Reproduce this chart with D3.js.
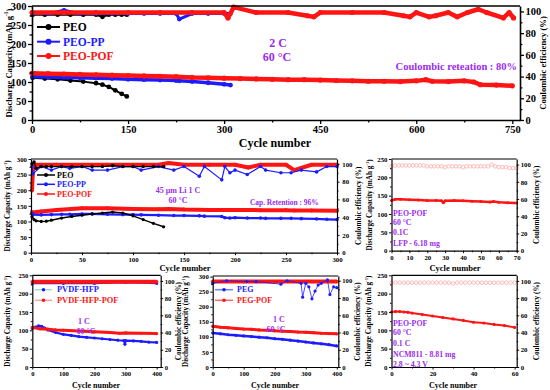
<!DOCTYPE html>
<html>
<head>
<meta charset="utf-8">
<script src="https://cdn.jsdelivr.net/npm/d3@7"></script>
<style>
body { margin: 0; background: #fff; }
text { font-family: "Liberation Serif", "Times New Roman", serif; font-weight: bold; }
</style>
</head>
<body>
<script>
// ---- panel A : 2 C, 60 °C, long cycling ----
var aPeoCyc = [1, 20, 40, 60, 80, 100, 110, 120, 130, 140, 148];
var aPeoCap = [111, 109, 107, 104, 101, 97, 93, 87, 78, 69, 62];
var aPeoCe  = [97, 97, 97, 97, 97, 97, 95, 97, 97, 97, 97];

var aPpCyc = [1, 25, 50, 75, 100, 125, 150, 175, 200, 225, 230, 250, 275, 300, 310];
var aPpCap = [114, 113, 112, 111, 110, 109, 107, 106, 105, 104, 103, 101, 98, 94, 92];
var aPpCe  = [98, 98, 101, 98, 98, 98, 98, 98, 98, 98, 93, 98, 98, 98, 98];

var aPofCyc = [0, 25, 50, 75, 100, 125, 150, 175, 200, 225, 250, 275, 300, 325, 350, 375,
               400, 425, 450, 475, 500, 525, 550, 575, 600, 615, 625, 650, 675, 690, 700, 725, 750];
var aPofCap = [123, 122, 121, 120, 119, 118, 117, 116, 115, 114, 112, 111, 110, 109, 108, 107,
               106, 106, 105, 104, 103, 102, 102, 101, 103, 106, 102, 101, 103, 100, 93, 92, 90];
var aPofCeCyc = [0, 50, 100, 150, 200, 250, 300, 306, 315, 350, 400, 430, 440, 450, 500, 550, 580,
                 590, 600, 620, 630, 650, 664, 680, 697, 710, 736, 745, 752];
var aPofCe    = [99, 99, 99, 99, 99, 99, 99, 94, 104, 99, 99, 96, 95, 99, 99, 99, 96,
                 95, 99, 95, 96, 99, 95, 99, 102, 99, 94, 99, 94];

// ---- panel B : 45 um Li, 1 C ----
var bPeoCyc = [1, 3, 5, 10, 15, 20, 30, 40, 50, 60, 70, 80, 90, 100, 110, 120, 130];
var bPeoCap = [115, 106, 102, 100, 101, 104, 111, 116, 120, 124, 127, 130, 127, 118, 106, 94, 83];
var bPeoCe  = [100, 102, 95, 97, 97, 97, 97, 97, 97, 97, 97, 98, 97, 97, 97, 97, 97];

var bPpCyc = [1, 2, 10, 20, 30, 38, 50, 60, 75, 90, 100, 108, 125, 140, 150, 165, 170, 187, 190,
              195, 200, 212, 225, 230, 245, 255, 265, 280, 290, 300];
var bPpCap = [125, 122, 121, 122, 123, 123, 124, 124, 123, 122, 122, 121, 120, 119, 119, 118, 117,
              116, 112, 111, 112, 111, 111, 110, 110, 110, 109, 108, 107, 106];
var bPpCe  = [97, 89, 97, 93, 97, 95, 97, 93, 93, 97, 97, 93, 97, 93, 97, 86, 97, 82, 97,
              90, 93, 88, 97, 93, 90, 90, 93, 91, 97, 97];

var bPofCyc = [1, 2, 5, 10, 25, 50, 75, 100, 125, 135, 150, 175, 200, 213, 225, 250, 258, 275, 300];
var bPofCap = [130, 128, 130, 132, 137, 142, 142, 140, 139, 140, 138, 137, 137, 137, 136, 136, 135, 135, 134];
var bPofCe  = [70, 95, 99, 99, 99, 99, 99, 99, 99, 101, 99, 99, 99, 96, 99, 99, 93, 99, 99];

// ---- panel C : LFP, 0.1C ----
var cCyc = [0, 2, 5, 10, 15, 20, 25, 28, 29, 30, 35, 40, 45, 50, 55, 57, 60, 65, 70];
var cCap = [137, 140, 140, 139, 138, 137, 137, 136, 131, 136, 137, 136, 135, 134, 133, 134, 132, 131, 130];
var cCeCyc = [0, 2, 4, 6, 8, 10, 12, 14, 16, 18, 20, 22, 24, 26, 28, 30, 32, 34,
              36, 38, 40, 42, 44, 46, 48, 50, 52, 54, 56, 58, 60, 62, 64, 66, 68, 70];
var cCe    = [98, 99, 99, 99, 99, 99, 99, 99, 99, 99, 98, 98, 98, 98, 98, 97, 98, 98,
              98, 98, 97, 98, 98, 98, 98, 98, 98, 98, 100, 98, 97, 97, 97, 96, 96, 96];

// ---- panel D : PVDF-HFP ----
var dHfpCyc = [0, 10, 20, 30, 40, 50, 75, 100, 125, 150, 175, 200, 225, 250, 275, 295, 298, 300, 325, 350, 375, 400];
var dHfpCap = [105, 109, 112, 111, 106, 101, 94, 89, 86, 83, 81, 79, 77, 75, 73, 72, 62, 72, 71, 70, 68, 67];
var dPofCyc = [0, 25, 50, 75, 100, 150, 200, 250, 280, 300, 350, 400];
var dPofCap = [108, 104, 103, 101, 100, 98, 96, 94, 92, 93, 92, 91];
var dCeCyc  = [0, 100, 200, 300, 400];
var dHfpCe  = [97, 97, 97, 98, 97];
var dPofCe  = [99, 99, 99, 99, 99];

// ---- panel E : PEG ----
var eCyc    = [0, 25, 50, 75, 100, 125, 150, 175, 200, 225, 250, 275, 300, 325, 350, 375, 400];
var ePegCap = [113, 110, 107, 105, 103, 101, 99, 97, 94, 92, 89, 86, 83, 80, 77, 74, 70];
var ePofCap = [135, 132, 130, 128, 126, 125, 123, 122, 120, 119, 118, 116, 115, 114, 112, 111, 110];
var ePegCeCyc = [0, 45, 110, 140, 220, 240, 285, 290, 300, 310, 320, 330, 340, 350, 370, 378, 390, 400];
var ePegCe    = [97, 100, 99, 99, 96, 100, 97, 81, 97, 93, 79, 88, 95, 97, 101, 84, 93, 92];
var ePofCeCyc = [0, 100, 200, 300, 400];
var ePofCe    = [99, 99, 99, 99, 99];

// ---- panel F : NCM811 ----
var fCyc = [0, 2, 4, 6, 8, 10, 15, 20, 25, 30, 35, 40, 45, 50, 55, 60];
var fCap = [150, 151, 151, 150, 149, 147, 143, 139, 135, 131, 127, 122, 120, 116, 113, 108];
var fCeCyc = [0, 2, 4, 6, 8, 10, 12, 14, 16, 18, 20, 22, 24, 26, 28, 30,
              32, 34, 36, 38, 40, 42, 44, 46, 48, 50, 52, 54, 56, 58, 60];
var fCe    = [98, 98, 98, 98, 98, 98, 98, 98, 98, 98, 98, 98, 98, 98, 98, 97,
              98, 98, 98, 98, 98, 98, 98, 98, 98, 98, 98, 98, 98, 98, 98];

var purple = "#9a2cf0",
    blue   = "#1c1cff",
    red    = "#ff1414",
    pink   = "#ff9f9f";

const svg = d3.select("body")
    .append("svg")
    .attr("width", 550)
    .attr("height", 390);

function ticksBy(max, step) {
    return d3.range(0, max + step / 2, step);
}

function drawPanel(p) {
    var g = svg.append("g");
    var x  = d3.scaleLinear().domain(p.xDomain).range([p.left, p.right]);
    var yL = d3.scaleLinear().domain(p.capDomain).range([p.bottom, p.top]);
    var yR = d3.scaleLinear().domain(p.ceDomain).range([p.bottom, p.top]);

    p.series.forEach(s => {
        var y = s.ce ? yR : yL;
        var pts = s.cyc.map((c, i) => [x(c), y(s.val[i])]);
        g.append("path")
            .attr("d", d3.line()(pts))
            .attr("fill", "none")
            .attr("stroke", s.line || s.color)
            .attr("stroke-width", s.lw)
            .attr("stroke-linejoin", "round");
        g.append("g").selectAll("circle")
            .data(pts)
            .join("circle")
            .attr("cx", d => d[0])
            .attr("cy", d => d[1])
            .attr("r", s.r)
            .attr("fill", s.open ? "#fff" : s.color)
            .attr("stroke", s.color)
            .attr("stroke-width", s.open ? 0.7 : 0);
    });

    function style(sel, minor) {
        sel.attr("font-family", null);
        sel.selectAll("text").style("font-size", p.fs + "px").attr("fill", "#000");
        sel.selectAll(".tick line").attr("stroke-width", p.aw * 0.8);
        if (minor) sel.select(".domain").remove();
        else sel.select(".domain").attr("stroke-width", p.aw);
    }

    function mids(t) {
        return t.slice(1).map((v, i) => (v + t[i]) / 2);
    }

    var xt = p.xTicks, ct = p.capTicks, et = ticksBy(100, 20);

    g.append("g").attr("transform", `translate(0,${p.bottom})`)
        .call(d3.axisBottom(x).tickValues(mids(xt)).tickFormat("").tickSize(p.tl * 0.6))
        .call(s => style(s, true));
    g.append("g").attr("transform", `translate(${p.left},0)`)
        .call(d3.axisLeft(yL).tickValues(mids(ct)).tickFormat("").tickSize(p.tl * 0.6))
        .call(s => style(s, true));
    g.append("g").attr("transform", `translate(${p.right},0)`)
        .call(d3.axisRight(yR).tickValues(mids(et)).tickFormat("").tickSize(p.tl * 0.6))
        .call(s => style(s, true));

    g.append("g").attr("transform", `translate(0,${p.bottom})`)
        .call(d3.axisBottom(x).tickValues(xt).tickFormat(d3.format("d")).tickSize(p.tl).tickSizeOuter(0).tickPadding(1.5))
        .call(s => style(s, false));
    g.append("g").attr("transform", `translate(${p.left},0)`)
        .call(d3.axisLeft(yL).tickValues(ct).tickFormat(d3.format("d")).tickSize(p.tl).tickSizeOuter(0).tickPadding(1.5))
        .call(s => style(s, false));
    g.append("g").attr("transform", `translate(${p.right},0)`)
        .call(d3.axisRight(yR).tickValues(et).tickFormat(d3.format("d")).tickSize(p.tl).tickSizeOuter(0).tickPadding(p.rPad || 1.5))
        .call(s => style(s, false));
    g.append("line")
        .attr("x1", p.left).attr("x2", p.right)
        .attr("y1", p.top).attr("y2", p.top)
        .attr("stroke", "#000").attr("stroke-width", p.aw);

    var midY = (p.top + p.bottom) / 2;
    var lt = g.append("text")
        .attr("transform", `translate(${p.capTitleX},${midY}) rotate(-90)`)
        .attr("text-anchor", "middle")
        .attr("dominant-baseline", "central")
        .style("font-size", p.titleFs + "px");
    lt.append("tspan").text("Discharge Capacity (mAh g");
    lt.append("tspan").text("-1").attr("dy", -p.titleFs * 0.35).style("font-size", (p.titleFs * 0.65) + "px");
    lt.append("tspan").text(")").attr("dy", p.titleFs * 0.35);

    g.append("text")
        .attr("transform", `translate(${p.ceTitleX},${midY}) rotate(-90)`)
        .attr("text-anchor", "middle")
        .attr("dominant-baseline", "central")
        .style("font-size", p.titleFs + "px")
        .text("Coulombic efficiency (%)");

    g.append("text")
        .attr("x", p.xlabX).attr("y", p.xlabY)
        .attr("text-anchor", "middle")
        .attr("dominant-baseline", "central")
        .style("font-size", p.xlabFs + "px")
        .text("Cycle number");

    (p.legend || []).forEach((l, i) => {
        var ly = p.legY[i];
        g.append("line")
            .attr("x1", p.legX[0]).attr("x2", p.legX[1])
            .attr("y1", ly).attr("y2", ly)
            .attr("stroke", l.line || l.color).attr("stroke-width", p.legLw);
        g.append("circle")
            .attr("cx", (p.legX[0] + p.legX[1]) / 2).attr("cy", ly)
            .attr("r", p.legR).attr("fill", l.color);
        g.append("text")
            .attr("x", p.legX[2]).attr("y", ly)
            .attr("dominant-baseline", "central")
            .attr("fill", l.color)
            .style("font-size", p.legFs + "px")
            .text(l.name);
    });

    (p.notes || []).forEach(n => {
        g.append("text")
            .attr("x", n.x).attr("y", n.y)
            .attr("text-anchor", n.anchor || "start")
            .attr("dominant-baseline", "central")
            .attr("fill", purple)
            .style("font-size", n.fs + "px")
            .text(n.t);
    });
}

// panel A
drawPanel({
    left: 32, right: 520, top: 6, bottom: 120,
    xDomain: [0, 762], capDomain: [0, 300], ceDomain: [0, 105],
    xTicks: ticksBy(750, 150), capTicks: ticksBy(300, 50),
    fs: 10.5, aw: 1.6, tl: 4, titleFs: 8.6, xlabFs: 12,
    capTitleX: 9, ceTitleX: 543, xlabX: 275, xlabY: 143,
    series: [
        {cyc: aPeoCyc, val: aPeoCe, ce: true, color: "#000", lw: 2, r: 2.4},
        {cyc: aPpCyc, val: aPpCe, ce: true, color: blue, lw: 3, r: 2.4},
        {cyc: aPofCeCyc, val: aPofCe, ce: true, color: red, lw: 4.5, r: 2.6},
        {cyc: aPeoCyc, val: aPeoCap, color: "#000", lw: 2, r: 2.4},
        {cyc: aPpCyc, val: aPpCap, color: blue, lw: 3.5, r: 2.4},
        {cyc: aPofCyc, val: aPofCap, color: red, lw: 4.5, r: 2.6}
    ],
    legend: [
        {name: "PEO", color: "#000"},
        {name: "PEO-PP", color: blue},
        {name: "PEO-POF", color: red}
    ],
    legX: [37, 60, 63], legY: [27, 41.7, 56], legLw: 2, legR: 3, legFs: 11.5,
    notes: [
        {t: "2 C", x: 278, y: 43, anchor: "middle", fs: 12},
        {t: "60 °C", x: 277, y: 57, anchor: "middle", fs: 12},
        {t: "Coulombic reteation : 80%", x: 517, y: 66.5, anchor: "end", fs: 10.5}
    ]
});

// panel B
drawPanel({
    left: 31, right: 337, top: 159, bottom: 252.7,
    xDomain: [0, 300], capDomain: [0, 300], ceDomain: [0, 105.5],
    xTicks: ticksBy(300, 50), capTicks: ticksBy(300, 50),
    fs: 6.8, aw: 1.2, tl: 2.5, titleFs: 7.2, xlabFs: 8.5, rPad: 2.8,
    capTitleX: 8, ceTitleX: 359, xlabX: 185, xlabY: 268,
    series: [
        {cyc: bPofCyc, val: bPofCe, ce: true, color: red, lw: 4, r: 2},
        {cyc: bPpCyc, val: bPpCe, ce: true, color: blue, lw: 1.2, r: 1.8},
        {cyc: bPeoCyc, val: bPeoCe, ce: true, color: "#000", lw: 1.2, r: 1.8},
        {cyc: bPofCyc, val: bPofCap, color: red, lw: 4, r: 2},
        {cyc: bPpCyc, val: bPpCap, color: blue, lw: 2.2, r: 1.8},
        {cyc: bPeoCyc, val: bPeoCap, color: "#000", lw: 1.5, r: 1.6}
    ],
    legend: [
        {name: "PEO", color: "#000"},
        {name: "PEO-PP", color: blue},
        {name: "PEO-POF", color: red}
    ],
    legX: [37, 55, 57], legY: [175, 184.3, 194], legLw: 1.5, legR: 2, legFs: 8,
    notes: [
        {t: "45 µm Li   1 C", x: 178, y: 190.7, anchor: "middle", fs: 8},
        {t: "60 °C", x: 178, y: 200.5, anchor: "middle", fs: 8},
        {t: "Cap. Retention : 96%", x: 250, y: 202, fs: 7.4}
    ]
});

// panel C
drawPanel({
    left: 391.5, right: 516.7, top: 159, bottom: 250.7,
    xDomain: [0, 70], capDomain: [0, 250], ceDomain: [0, 106.5],
    xTicks: ticksBy(70, 10), capTicks: ticksBy(250, 50),
    fs: 6.8, aw: 1.2, tl: 2.5, titleFs: 7.2, xlabFs: 8.5,
    capTitleX: 370, ceTitleX: 537, xlabX: 455, xlabY: 268,
    series: [
        {cyc: cCeCyc, val: cCe, ce: true, color: pink, line: "#ffc4c4", lw: 1, r: 1.8, open: true},
        {cyc: cCyc, val: cCap, color: red, lw: 2.5, r: 1.5}
    ],
    notes: [
        {t: "PEO-POF", x: 393, y: 213.3, fs: 7.8},
        {t: "60 °C", x: 393, y: 222.7, fs: 7.8},
        {t: "0.1C", x: 393, y: 232.7, fs: 7.8},
        {t: "LFP - 6.18 mg", x: 393, y: 243.3, fs: 7.8}
    ]
});

// panel D
drawPanel({
    left: 32.3, right: 160.7, top: 275.3, bottom: 367,
    xDomain: [0, 413], capDomain: [0, 250], ceDomain: [0, 106.5],
    xTicks: ticksBy(400, 100), capTicks: ticksBy(250, 50),
    fs: 6.6, aw: 1.2, tl: 2.5, titleFs: 7.2, xlabFs: 8,
    capTitleX: 8, ceTitleX: 179, xlabX: 96, xlabY: 385,
    series: [
        {cyc: dCeCyc, val: dHfpCe, ce: true, color: blue, lw: 1.5, r: 1.5},
        {cyc: dCeCyc, val: dPofCe, ce: true, color: red, lw: 4, r: 1.8},
        {cyc: dHfpCyc, val: dHfpCap, color: blue, lw: 2.2, r: 1.6},
        {cyc: dPofCyc, val: dPofCap, color: red, lw: 3, r: 1.6}
    ],
    legend: [
        {name: "PVDF-HFP", color: blue, line: "#a3dbd2"},
        {name: "PVDF-HFP-POF", color: red, line: "#f6a3a3"}
    ],
    legX: [35, 52, 57], legY: [289.7, 300.3], legLw: 1.5, legR: 1.8, legFs: 8.4,
    notes: [
        {t: "1 C", x: 84, y: 321, anchor: "middle", fs: 8},
        {t: "60 °C", x: 86, y: 331.3, anchor: "middle", fs: 8}
    ]
});

// panel E
drawPanel({
    left: 212.7, right: 338.3, top: 276, bottom: 367,
    xDomain: [0, 405], capDomain: [0, 302], ceDomain: [0, 105.5],
    xTicks: ticksBy(400, 100), capTicks: ticksBy(300, 50),
    fs: 6.6, aw: 1.2, tl: 2.5, titleFs: 7.2, xlabFs: 8,
    capTitleX: 186, ceTitleX: 358, xlabX: 275, xlabY: 385,
    series: [
        {cyc: ePofCeCyc, val: ePofCe, ce: true, color: red, lw: 4, r: 1.8},
        {cyc: ePegCeCyc, val: ePegCe, ce: true, color: blue, lw: 0.8, r: 1.6},
        {cyc: eCyc, val: ePegCap, color: blue, lw: 2.5, r: 1.6},
        {cyc: eCyc, val: ePofCap, color: red, lw: 3, r: 1.6}
    ],
    legend: [
        {name: "PEG", color: blue, line: "#6a86ff"},
        {name: "PEG-POF", color: red, line: "#ff6a6a"}
    ],
    legX: [215, 233, 237], legY: [289.7, 300.3], legLw: 1.5, legR: 1.8, legFs: 8,
    notes: [
        {t: "1 C", x: 279, y: 319.7, anchor: "middle", fs: 8},
        {t: "60 °C", x: 276, y: 329.7, anchor: "middle", fs: 8}
    ]
});

// panel F
drawPanel({
    left: 391.5, right: 516.7, top: 275.3, bottom: 367,
    xDomain: [0, 61], capDomain: [0, 250], ceDomain: [0, 106.5],
    xTicks: ticksBy(60, 20), capTicks: ticksBy(250, 50),
    fs: 6.8, aw: 1.2, tl: 2.5, titleFs: 7.2, xlabFs: 8,
    capTitleX: 369, ceTitleX: 537, xlabX: 453, xlabY: 385,
    series: [
        {cyc: fCeCyc, val: fCe, ce: true, color: pink, line: "#ffc4c4", lw: 1, r: 1.8, open: true},
        {cyc: fCyc, val: fCap, color: red, lw: 2, r: 1.6}
    ],
    notes: [
        {t: "PEO-POF", x: 393, y: 323, fs: 7.8},
        {t: "60 °C", x: 393, y: 332.3, fs: 7.8},
        {t: "0.1 C", x: 393, y: 343, fs: 7.8},
        {t: "NCM811 - 8.81 mg", x: 393, y: 354, fs: 7.8},
        {t: "2.8 ~ 4.3 V", x: 393, y: 364.7, fs: 7.8}
    ]
});
</script>
</body>
</html>
